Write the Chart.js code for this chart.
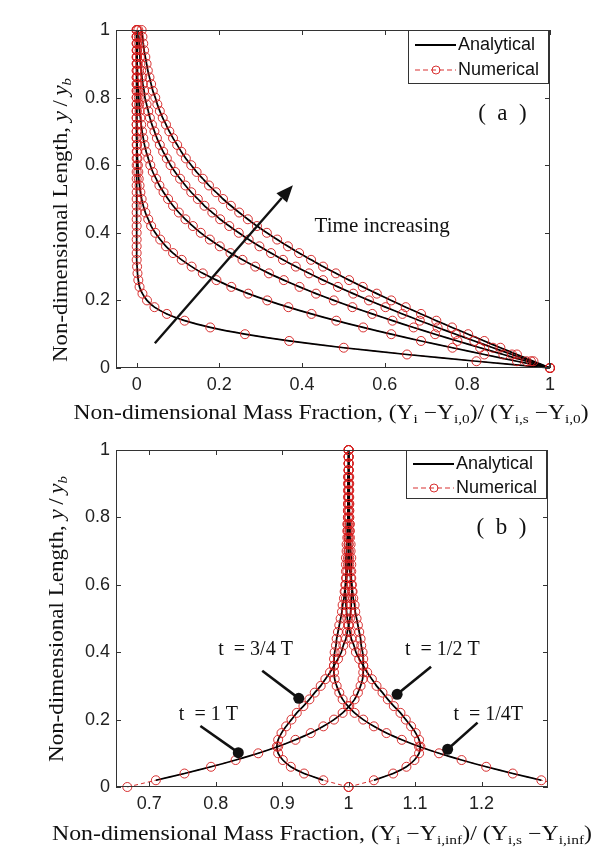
<!DOCTYPE html>
<html lang="en">
<head>
<meta charset="UTF-8">
<title>Mass fraction profiles</title>
<script src="https://cdn.jsdelivr.net/npm/chart.js"></script>
<style>
  html, body { margin: 0; padding: 0; background: #fff; }
  #wrap { position: relative; width: 614px; height: 855px; }
  canvas { position: absolute; left: 0; }
  #chartA { top: 0; }
  #chartB { top: 420px; }
</style>
</head>
<body>
<div id="wrap">
  <canvas id="chartA" width="614" height="440"></canvas>
  <canvas id="chartB" width="614" height="435"></canvas>
</div>
<script>
// non-dimensional length y/yb, same grid for every profile
const yGrid = [
  0.00, 0.02, 0.04, 0.06, 0.08, 0.10, 0.12, 0.14, 0.16, 0.18,
  0.20, 0.22, 0.24, 0.26, 0.28, 0.30, 0.32, 0.34, 0.36, 0.38,
  0.40, 0.42, 0.44, 0.46, 0.48, 0.50, 0.52, 0.54, 0.56, 0.58,
  0.60, 0.62, 0.64, 0.66, 0.68, 0.70, 0.72, 0.74, 0.76, 0.78,
  0.80, 0.82, 0.84, 0.86, 0.88, 0.90, 0.92, 0.94, 0.96, 0.98, 1.00
];

// (a) mass fraction profiles, earliest to latest time
const profileA1 = [
  1.000, 0.822, 0.654, 0.501, 0.369, 0.262, 0.178, 0.116, 0.073, 0.043,
  0.025, 0.014, 0.007, 0.004, 0.002, 0.001, 0.000, 0.000, 0.000, 0.000,
  0.000, 0.000, 0.000, 0.000, 0.000, 0.000, 0.000, 0.000, 0.000, 0.000,
  0.000, 0.000, 0.000, 0.000, 0.000, 0.000, 0.000, 0.000, 0.000, 0.000,
  0.000, 0.000, 0.000, 0.000, 0.000, 0.000, 0.000, 0.000, 0.000, 0.000, 0.000
];
const profileA2 = [
  1.000, 0.920, 0.841, 0.764, 0.688, 0.616, 0.548, 0.483, 0.423, 0.367,
  0.316, 0.270, 0.229, 0.193, 0.160, 0.133, 0.109, 0.088, 0.071, 0.057,
  0.045, 0.035, 0.028, 0.021, 0.016, 0.012, 0.009, 0.007, 0.005, 0.004,
  0.003, 0.002, 0.001, 0.001, 0.000, 0.000, 0.000, 0.000, 0.000, 0.000,
  0.000, 0.000, 0.000, 0.000, 0.000, 0.000, 0.000, 0.000, 0.000, 0.000, 0.000
];
const profileA3 = [
  1.000, 0.943, 0.887, 0.831, 0.776, 0.722, 0.670, 0.619, 0.570, 0.522,
  0.477, 0.434, 0.394, 0.356, 0.320, 0.287, 0.256, 0.227, 0.201, 0.177,
  0.155, 0.136, 0.118, 0.102, 0.088, 0.076, 0.065, 0.055, 0.047, 0.039,
  0.033, 0.028, 0.023, 0.019, 0.016, 0.013, 0.011, 0.009, 0.007, 0.006,
  0.005, 0.004, 0.003, 0.002, 0.002, 0.001, 0.001, 0.001, 0.001, 0.000, 0.000
];
const profileA4 = [
  1.000, 0.954, 0.908, 0.862, 0.817, 0.772, 0.728, 0.685, 0.643, 0.602,
  0.562, 0.524, 0.487, 0.451, 0.417, 0.385, 0.354, 0.325, 0.297, 0.271,
  0.247, 0.224, 0.202, 0.183, 0.164, 0.148, 0.132, 0.118, 0.105, 0.093,
  0.082, 0.073, 0.064, 0.056, 0.049, 0.043, 0.037, 0.032, 0.028, 0.024,
  0.020, 0.018, 0.015, 0.013, 0.011, 0.009, 0.008, 0.007, 0.006, 0.005, 0.004
];
const profileA5 = [
  1.000, 0.960, 0.920, 0.880, 0.841, 0.802, 0.763, 0.725, 0.688, 0.651,
  0.616, 0.581, 0.547, 0.514, 0.482, 0.451, 0.422, 0.393, 0.366, 0.340,
  0.315, 0.291, 0.269, 0.248, 0.228, 0.209, 0.192, 0.175, 0.160, 0.145,
  0.132, 0.119, 0.108, 0.098, 0.088, 0.079, 0.071, 0.063, 0.056, 0.050,
  0.045, 0.039, 0.035, 0.031, 0.027, 0.024, 0.021, 0.018, 0.016, 0.014, 0.012
];

// (b) oscillating profiles at t = 1/4 T, 1/2 T, 3/4 T, 1 T
const profileQuarterT = [
  1.333, 1.290, 1.247, 1.207, 1.170, 1.136, 1.106, 1.080, 1.057, 1.038,
  1.022, 1.009, 0.999, 0.991, 0.986, 0.982, 0.979, 0.978, 0.978, 0.978,
  0.979, 0.981, 0.982, 0.984, 0.986, 0.988, 0.990, 0.991, 0.993, 0.994,
  0.996, 0.997, 0.998, 0.999, 0.999, 1.000, 1.000, 1.000, 1.001, 1.001,
  1.001, 1.001, 1.001, 1.001, 1.001, 1.001, 1.001, 1.000, 1.000, 1.000, 1.000
];
const profileHalfT = [
  1.000, 1.038, 1.067, 1.087, 1.099, 1.106, 1.108, 1.106, 1.101, 1.094,
  1.086, 1.078, 1.068, 1.059, 1.051, 1.042, 1.035, 1.028, 1.022, 1.016,
  1.011, 1.008, 1.004, 1.002, 1.000, 0.998, 0.997, 0.996, 0.996, 0.995,
  0.995, 0.996, 0.996, 0.996, 0.996, 0.997, 0.997, 0.998, 0.998, 0.998,
  0.999, 0.999, 0.999, 1.000, 1.000, 1.000, 1.000, 1.000, 1.000, 1.000, 1.000
];
const profileThreeQuarterT = [
  1.000, 0.962, 0.933, 0.913, 0.901, 0.894, 0.892, 0.894, 0.899, 0.906,
  0.914, 0.922, 0.932, 0.941, 0.949, 0.958, 0.965, 0.972, 0.978, 0.984,
  0.989, 0.992, 0.996, 0.998, 1.000, 1.002, 1.003, 1.004, 1.004, 1.005,
  1.005, 1.004, 1.004, 1.004, 1.004, 1.003, 1.003, 1.002, 1.002, 1.002,
  1.001, 1.001, 1.001, 1.000, 1.000, 1.000, 1.000, 1.000, 1.000, 1.000, 1.000
];
const profileFullT = [
  0.667, 0.710, 0.753, 0.793, 0.830, 0.864, 0.894, 0.920, 0.943, 0.962,
  0.978, 0.991, 1.001, 1.009, 1.014, 1.018, 1.021, 1.022, 1.022, 1.022,
  1.021, 1.019, 1.018, 1.016, 1.014, 1.012, 1.010, 1.009, 1.007, 1.006,
  1.004, 1.003, 1.002, 1.001, 1.001, 1.000, 1.000, 1.000, 0.999, 0.999,
  0.999, 0.999, 0.999, 0.999, 0.999, 0.999, 0.999, 1.000, 1.000, 1.000, 1.000
];

// ticks
const xTicksA = [0, 0.2, 0.4, 0.6, 0.8, 1];
const xTickLabelsA = ['0', '0.2', '0.4', '0.6', '0.8', '1'];
const xTicksB = [0.7, 0.8, 0.9, 1, 1.1, 1.2];
const xTickLabelsB = ['0.7', '0.8', '0.9', '1', '1.1', '1.2'];
const yTicks = [0, 0.2, 0.4, 0.6, 0.8, 1];
const yTickLabels = ['0', '0.2', '0.4', '0.6', '0.8', '1'];

const redMark = 'rgba(212, 28, 28, 0.9)';
const sans = '"Liberation Sans", Arial, sans-serif';
const serif = '"Liberation Serif", "Times New Roman", serif';

function buildDatasets(curves, analyticStart, clip) {
    let sets = [];
    curves.forEach(function (c) {
        let pts = yGrid.map((y, i) => ({ x: c[i], y: y }));
        // dashed numerical line underneath
        sets.push({
            label: 'Numerical', data: pts, showLine: true, clip: clip,
            borderColor: redMark, borderWidth: 1, borderDash: [4, 3],
            pointRadius: 0, pointHoverRadius: 0, tension: 0, order: 3
        });
        // analytical solution
        sets.push({
            label: 'Analytical', data: pts.slice(analyticStart), showLine: true, clip: clip,
            borderColor: '#000', borderWidth: 1.7, pointRadius: 0, pointHoverRadius: 0,
            tension: 0.2, order: 2
        });
        // numerical markers on top
        sets.push({
            label: 'Numerical', data: pts, showLine: false, clip: clip,
            pointRadius: 4.5, pointHoverRadius: 4.5, pointBorderWidth: 1,
            pointBorderColor: redMark, pointBackgroundColor: 'rgba(0,0,0,0)', order: 1
        });
    });
    return sets;
}

// text with subscripts / italics, centred at (cx, cy), stretched to width w
function drawRich(ctx, segs, cx, cy, size, w) {
    let parts = segs.map(function (s) {
        let fs = s[1] && s[1].sub ? Math.round(size * 0.64) : size;
        let font = (s[1] && s[1].it ? 'italic ' : '') + fs + 'px ' + serif;
        ctx.font = font;
        return { t: s[0], font: font, w: ctx.measureText(s[0]).width, dy: s[1] && s[1].sub ? size * 0.3 : 0 };
    });
    let total = parts.reduce((a, p) => a + p.w, 0);
    ctx.save();
    ctx.translate(cx, cy);
    ctx.scale(w / total, 1);
    let x = -total / 2;
    ctx.textAlign = 'left';
    ctx.textBaseline = 'middle';
    parts.forEach(function (p) {
        ctx.font = p.font;
        ctx.fillText(p.t, x, p.dy);
        x += p.w;
    });
    ctx.restore();
}

function decorations(cfg) {
    return {
        id: 'decorations',
        afterDatasetsDraw(chart) {
            const ctx = chart.ctx, a = chart.chartArea;
            const xs = chart.scales.x, ys = chart.scales.y;
            ctx.save();

            // box and inward ticks (all four sides)
            ctx.strokeStyle = '#333';
            ctx.lineWidth = 1;
            ctx.strokeRect(a.left + 0.5, a.top + 0.5, a.right - a.left - 1, a.bottom - a.top - 1);
            ctx.beginPath();
            xs.ticks.forEach(function (t) {
                let px = Math.round(xs.getPixelForValue(t.value)) + 0.5;
                ctx.moveTo(px, a.bottom); ctx.lineTo(px, a.bottom - 5);
                ctx.moveTo(px, a.top); ctx.lineTo(px, a.top + 5);
            });
            ys.ticks.forEach(function (t) {
                let py = Math.round(ys.getPixelForValue(t.value)) + 0.5;
                ctx.moveTo(a.left, py); ctx.lineTo(a.left + 5, py);
                ctx.moveTo(a.right, py); ctx.lineTo(a.right - 5, py);
            });
            ctx.stroke();

            ctx.fillStyle = '#111';
            ctx.strokeStyle = '#111';

            // annotation texts
            cfg.texts.forEach(function (t) {
                ctx.font = t.size + 'px ' + serif;
                ctx.textAlign = 'center';
                ctx.textBaseline = 'middle';
                ctx.fillText(t.text, xs.getPixelForValue(t.x), ys.getPixelForValue(t.y));
            });

            // pointer lines ending in a dot
            cfg.pointers.forEach(function (p) {
                let x0 = xs.getPixelForValue(p[0]), y0 = ys.getPixelForValue(p[1]);
                let x1 = xs.getPixelForValue(p[2]), y1 = ys.getPixelForValue(p[3]);
                ctx.lineWidth = 2.6;
                ctx.beginPath(); ctx.moveTo(x0, y0); ctx.lineTo(x1, y1); ctx.stroke();
                ctx.beginPath(); ctx.arc(x1, y1, 5.5, 0, Math.PI * 2); ctx.fill();
            });

            // big arrow
            if (cfg.arrow) {
                let p = cfg.arrow;
                let x0 = xs.getPixelForValue(p[0]), y0 = ys.getPixelForValue(p[1]);
                let x1 = xs.getPixelForValue(p[2]), y1 = ys.getPixelForValue(p[3]);
                let ang = Math.atan2(y1 - y0, x1 - x0);
                let hl = 17, hw = 7;
                let bx = x1 - hl * Math.cos(ang), by = y1 - hl * Math.sin(ang);
                ctx.lineWidth = 2.4;
                ctx.beginPath(); ctx.moveTo(x0, y0); ctx.lineTo(bx, by); ctx.stroke();
                ctx.beginPath();
                ctx.moveTo(x1, y1);
                ctx.lineTo(bx + hw * Math.sin(ang), by - hw * Math.cos(ang));
                ctx.lineTo(bx - hw * Math.sin(ang), by + hw * Math.cos(ang));
                ctx.closePath(); ctx.fill();
            }

            // legend box inside top-right corner
            let lw = 140, lh = cfg.legendH;
            let lx = a.right - lw - 2, ly = a.top;
            ctx.fillStyle = '#fff';
            ctx.fillRect(lx, ly, lw, lh);
            ctx.strokeStyle = '#333';
            ctx.lineWidth = 1;
            ctx.strokeRect(lx + 0.5, ly + 0.5, lw, lh);
            let r1 = ly + cfg.rows[0], r2 = ly + cfg.rows[1];
            ctx.strokeStyle = '#000';
            ctx.lineWidth = 2;
            ctx.beginPath(); ctx.moveTo(lx + 7, r1); ctx.lineTo(lx + 48, r1); ctx.stroke();
            ctx.strokeStyle = redMark;
            ctx.lineWidth = 1;
            ctx.setLineDash([5, 3]);
            ctx.beginPath(); ctx.moveTo(lx + 7, r2); ctx.lineTo(lx + 48, r2); ctx.stroke();
            ctx.setLineDash([]);
            ctx.beginPath(); ctx.arc(lx + 28, r2, 4, 0, Math.PI * 2); ctx.stroke();
            ctx.fillStyle = '#111';
            ctx.font = '18px ' + sans;
            ctx.textAlign = 'left';
            ctx.textBaseline = 'middle';
            ctx.fillText('Analytical', lx + 50, r1);
            ctx.fillText('Numerical', lx + 50, r2);

            // axis titles
            ctx.fillStyle = '#111';
            drawRich(ctx, cfg.xTitle, cfg.xTitlePos[0], cfg.xTitlePos[1], 20, cfg.xTitlePos[2]);
            ctx.save();
            ctx.translate(cfg.yTitlePos[0], cfg.yTitlePos[1]);
            ctx.rotate(-Math.PI / 2);
            drawRich(ctx, cfg.yTitle, 0, 0, 20, cfg.yTitlePos[2]);
            ctx.restore();

            ctx.restore();
        }
    };
}

function makeScales(xMin, xMax, xTicks, xLabels, xAxisH) {
    const tickFont = { family: sans, size: 18 };
    return {
        x: {
            type: 'linear', min: xMin, max: xMax,
            grid: { display: false, drawTicks: false }, border: { display: false },
            afterBuildTicks: s => { s.ticks = xTicks.map(v => ({ value: v })); },
            afterFit: s => { s.height = xAxisH; },
            ticks: { callback: (v, i) => xLabels[i], font: tickFont, color: '#222', padding: 6, maxRotation: 0, autoSkip: false }
        },
        y: {
            type: 'linear', min: 0, max: 1,
            grid: { display: false, drawTicks: false }, border: { display: false },
            afterBuildTicks: s => { s.ticks = yTicks.map(v => ({ value: v })); },
            afterFit: s => { s.width = 116; },
            ticks: { callback: (v, i) => yTickLabels[i], font: tickFont, color: '#222', padding: 6, autoSkip: false }
        }
    };
}

const yTitle = [['Non-dimensional Length, '], ['y', { it: true }], ['\u2009/\u2009'], ['y', { it: true }], ['b', { it: true, sub: true }]];

const configA = {
    type: 'scatter',
    data: { datasets: buildDatasets([profileA1, profileA2, profileA3, profileA4, profileA5], 0, 6) },
    options: {
        responsive: false, animation: false, events: [],
        layout: { padding: { top: 30, right: 64, left: 0, bottom: 0 } },
        plugins: { legend: { display: false }, tooltip: { enabled: false } },
        scales: makeScales(-0.05, 1.0, xTicksA, xTickLabelsA, 72)
    },
    plugins: [decorations({
        legendH: 53, rows: [15, 40],
        texts: [
            { text: '(  a  )', x: 0.885, y: 0.753, size: 23 },
            { text: 'Time increasing', x: 0.594, y: 0.418, size: 21 }
        ],
        pointers: [],
        arrow: [0.044, 0.073, 0.378, 0.541],
        xTitle: [['Non-dimensional Mass Fraction, (Y'], ['i', { sub: true }], [' \u2212Y'], ['i,0', { sub: true }], [')/ (Y'], ['i,s', { sub: true }], [' \u2212Y'], ['i,0', { sub: true }], [')']],
        xTitlePos: [331, 414, 515],
        yTitle: yTitle,
        yTitlePos: [62, 220, 284]
    })]
};

const configB = {
    type: 'scatter',
    data: { datasets: buildDatasets([profileQuarterT, profileHalfT, profileThreeQuarterT, profileFullT], 1, { left: 6, top: 6, right: 0, bottom: 6 }) },
    options: {
        responsive: false, animation: false, events: [],
        layout: { padding: { top: 30, right: 66, left: 0, bottom: 0 } },
        plugins: { legend: { display: false }, tooltip: { enabled: false } },
        scales: makeScales(0.65, 1.3, xTicksB, xTickLabelsB, 68)
    },
    plugins: [decorations({
        legendH: 48, rows: [14, 38],
        texts: [
            { text: '(  b  )', x: 1.230, y: 0.768, size: 23 },
            { text: 't  = 3/4 T', x: 0.860, y: 0.407, size: 20 },
            { text: 't  = 1/2 T', x: 1.141, y: 0.407, size: 20 },
            { text: 't  = 1 T', x: 0.789, y: 0.215, size: 20 },
            { text: 't  = 1/4T', x: 1.210, y: 0.215, size: 20 }
        ],
        pointers: [
            [1.124, 0.357, 1.073, 0.275],
            [1.194, 0.191, 1.149, 0.112],
            [0.870, 0.345, 0.925, 0.263],
            [0.777, 0.181, 0.834, 0.102]
        ],
        arrow: null,
        xTitle: [['Non-dimensional Mass Fraction, (Y'], ['i', { sub: true }], [' \u2212Y'], ['i,inf', { sub: true }], [')/ (Y'], ['i,s', { sub: true }], [' \u2212Y'], ['i,inf', { sub: true }], [')']],
        xTitlePos: [322, 415, 540],
        yTitle: yTitle,
        yTitlePos: [58, 199, 286]
    })]
};

let chartA = new Chart(document.getElementById('chartA'), configA);
let chartB = new Chart(document.getElementById('chartB'), configB);
</script>
</body>
</html>
